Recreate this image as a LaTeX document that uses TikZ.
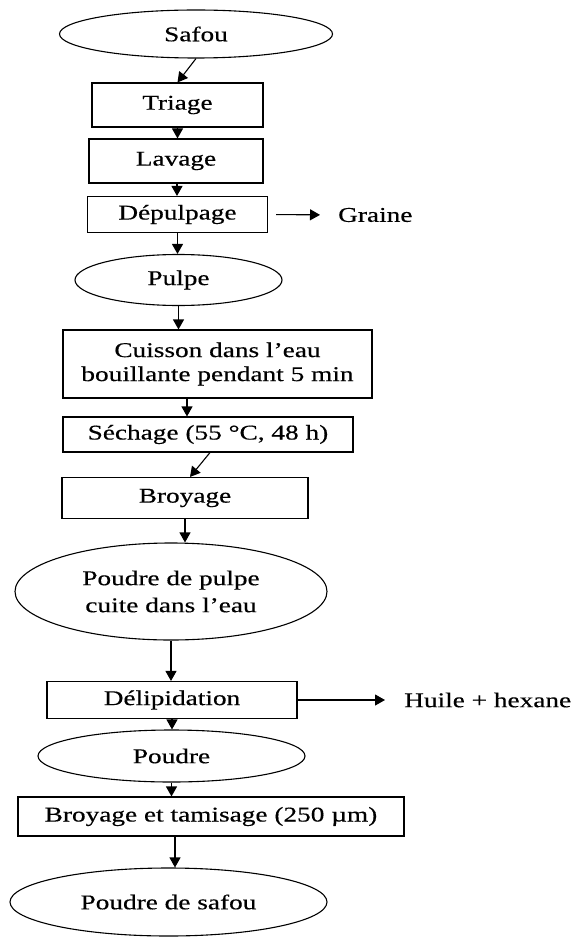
\documentclass[tikz,border=0pt]{standalone}
\usepackage{fontspec}
\setmainfont{Liberation Serif}[FakeStretch=1.3,FakeBold=0.4]
\usepackage{tikz}
\usetikzlibrary{arrows.meta,shapes.geometric}

\begin{document}
\begin{tikzpicture}[x=1pt,y=-1pt,
    font=\fontsize{21}{24}\selectfont,
    stepbox/.style={draw,rectangle,line width=1.1pt,inner sep=0pt},
    product/.style={draw,ellipse,line width=1.1pt,inner sep=0pt},
    flow/.style={line width=1.1pt,-{Triangle[length=10pt,width=11pt]}}]
    \useasboundingbox (0,0) rectangle (574,941);

    % Safou to pulp
    \node[product,minimum width=273pt,minimum height=48pt] (safou) at (196,34) {Safou};
    \node[stepbox,minimum width=171pt,minimum height=44pt] (triage) at (177.5,105) {Triage};
    \node[stepbox,minimum width=174pt,minimum height=44pt] (lavage) at (176,161) {Lavage};
    \node[stepbox,minimum width=180pt,minimum height=36pt] (depulp) at (177.5,214.5) {Dépulpage};
    \node[anchor=west,inner sep=0pt] (graine) at (338,215) {Graine};
    \node[product,minimum width=207pt,minimum height=51pt] (pulpe) at (178.5,280) {Pulpe};

    % Cooking, drying, grinding
    \node[stepbox,minimum width=309pt,minimum height=68pt,align=center] (cuisson) at (217.5,364)
        {Cuisson dans l’eau\\bouillante pendant 5 min};
    \node[stepbox,minimum width=290pt,minimum height=35pt] (sechage) at (208,434.5) {Séchage (55 °C, 48 h)};
    \node[stepbox,minimum width=246pt,minimum height=41pt] (broyage) at (185,498) {Broyage};
    \node[product,minimum width=312pt,minimum height=97pt,align=center,
        font=\fontsize{21}{27}\selectfont] (ppulpe) at (171,591.5) {Poudre de pulpe\\cuite dans l’eau};

    % Defatting and sieving
    \node[stepbox,minimum width=250pt,minimum height=37pt] (delip) at (172,700) {Délipidation};
    \node[anchor=west,inner sep=0pt] (huile) at (404,700) {Huile + hexane};
    \node[product,minimum width=267pt,minimum height=52pt] (poudre) at (171.5,756) {Poudre};
    \node[stepbox,minimum width=386pt,minimum height=39pt] (tamis) at (211,816.5) {Broyage et tamisage (250 µm)};
    \node[product,minimum width=317pt,minimum height=68pt] (psafou) at (168.5,902) {Poudre de safou};

    % Arrows
    \draw[flow] (safou.south) -- (triage.north);
    \draw[flow] (triage.south) -- (triage.south |- lavage.north);
    \draw[flow] ([xshift=1pt]lavage.south) -- ([xshift=1pt]lavage.south |- depulp.north);
    \draw[flow,shorten <=8pt,shorten >=18pt] (depulp.east) -- (graine.west);
    \draw[flow] (depulp.south) -- (depulp.south |- pulpe.north);
    \draw[flow] (pulpe.south) -- (pulpe.south |- cuisson.north);
    \draw[flow] ([xshift=-30.5pt]cuisson.south) -- ([xshift=-30.5pt]cuisson.south |- sechage.north);
    \draw[flow] ([xshift=2pt]sechage.south) -- ([xshift=5pt]broyage.north);
    \draw[flow] (broyage.south) -- (broyage.south |- ppulpe.north);
    \draw[flow] (ppulpe.south) -- (ppulpe.south |- delip.north);
    \draw[flow,shorten >=19pt] (delip.east) -- (huile.west);
    \draw[flow] (delip.south) -- (delip.south |- poudre.north);
    \draw[flow] (poudre.south) -- (poudre.south |- tamis.north);
    \draw[flow] ([xshift=-36pt]tamis.south) -- ([xshift=-36pt]tamis.south |- psafou.north);
\end{tikzpicture}
\end{document}
